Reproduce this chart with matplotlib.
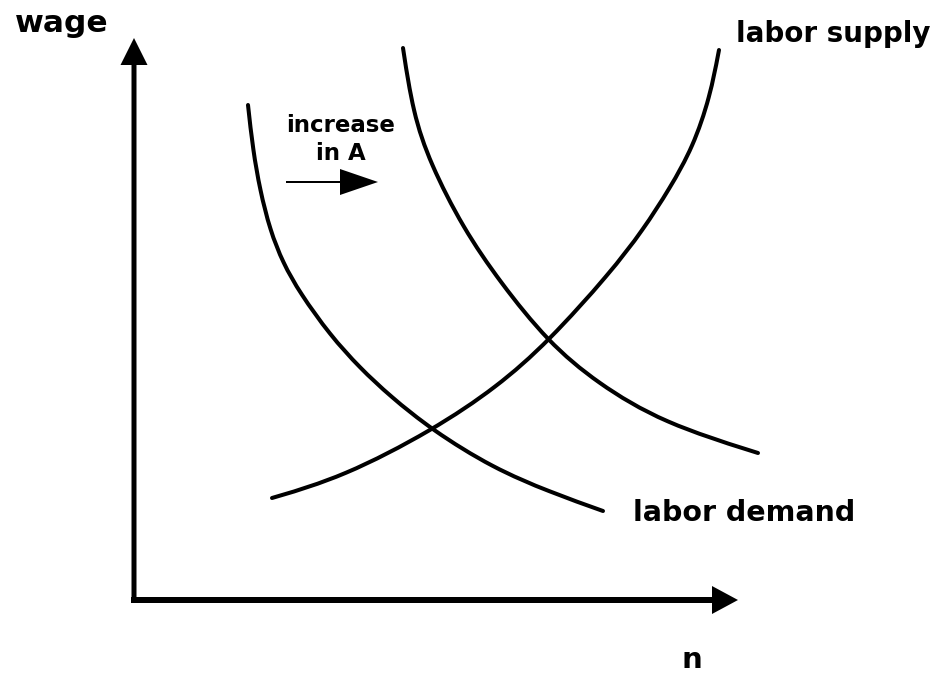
import matplotlib
matplotlib.use("Agg")
import matplotlib.pyplot as plt
from matplotlib.path import Path
from matplotlib.patches import PathPatch

# Curves (pixel-like coordinates, y downward)
demand1_x = [248, 253, 260, 270, 283, 300, 330, 360, 390, 432, 493, 550, 603]
demand1_y = [105, 150, 190, 230, 263, 293, 335, 368, 396, 430, 468, 492, 511]

demand2_x = [403, 413, 430, 463, 500, 548, 597, 663, 758]
demand2_y = [48, 113, 163, 228, 282, 342, 383, 423, 453]

supply_x = [272, 343, 433, 497, 548, 610, 643, 670, 693, 710, 719]
supply_y = [498, 477, 430, 387, 342, 273, 230, 188, 147, 97, 50]

labels = {"wage": "wage", "n": "n", "supply": "labor supply",
          "demand": "labor demand", "shift1": "increase", "shift2": "in A"}

W, H = 939, 675
fig = plt.figure(figsize=(W / 100, H / 100), dpi=100)
ax = fig.add_axes([0, 0, 1, 1])
ax.set_xlim(0, W)
ax.set_ylim(H, 0)
ax.axis("off")


def smooth_path(xs, ys):
    """Smooth curve guided by the read points (clamped cubic B-spline as Bezier)."""
    pts = list(zip(xs, ys))
    P = [pts[0], pts[0]] + pts + [pts[-1], pts[-1]]
    verts, codes = [], []
    for i in range(len(P) - 3):
        p0, p1, p2, p3 = P[i], P[i + 1], P[i + 2], P[i + 3]
        b0 = ((p0[0] + 4 * p1[0] + p2[0]) / 6, (p0[1] + 4 * p1[1] + p2[1]) / 6)
        b1 = ((2 * p1[0] + p2[0]) / 3, (2 * p1[1] + p2[1]) / 3)
        b2 = ((p1[0] + 2 * p2[0]) / 3, (p1[1] + 2 * p2[1]) / 3)
        b3 = ((p1[0] + 4 * p2[0] + p3[0]) / 6, (p1[1] + 4 * p2[1] + p3[1]) / 6)
        if i == 0:
            verts.append(b0)
            codes.append(Path.MOVETO)
        verts += [b1, b2, b3]
        codes += [Path.CURVE4] * 3
    return Path(verts, codes)


lw = 2.9
for xs, ys in [(demand1_x, demand1_y), (demand2_x, demand2_y), (supply_x, supply_y)]:
    patch = PathPatch(smooth_path(xs, ys), facecolor="none", edgecolor="black",
                      lw=lw, capstyle="round", joinstyle="round")
    ax.add_patch(patch)

# axes arrows
ax.arrow(134, 603, 0, 38 - 603, width=5, head_width=27, head_length=27,
         length_includes_head=True, color="black", lw=0)
ax.arrow(131, 600, 738 - 131, 0, width=6, head_width=28, head_length=26,
         length_includes_head=True, color="black", lw=0)
# shift arrow
ax.arrow(286, 182, 378 - 286, 0, width=2, head_width=26, head_length=38,
         length_includes_head=True, color="black", lw=0)

fk = dict(family="DejaVu Sans", fontweight="bold", color="black", ha="left", va="baseline")
ax.text(15, 32, labels["wage"], fontsize=22.5, **fk)
ax.text(736, 42, labels["supply"], fontsize=20, **fk)
ax.text(633, 521, labels["demand"], fontsize=20.5, **fk)
ax.text(286, 132, labels["shift1"], fontsize=16.5, **fk)
ax.text(316, 160, labels["shift2"], fontsize=16.5, **fk)
ax.text(682, 668, labels["n"], fontsize=21, **fk)

fig.savefig("out.png", dpi=100)
